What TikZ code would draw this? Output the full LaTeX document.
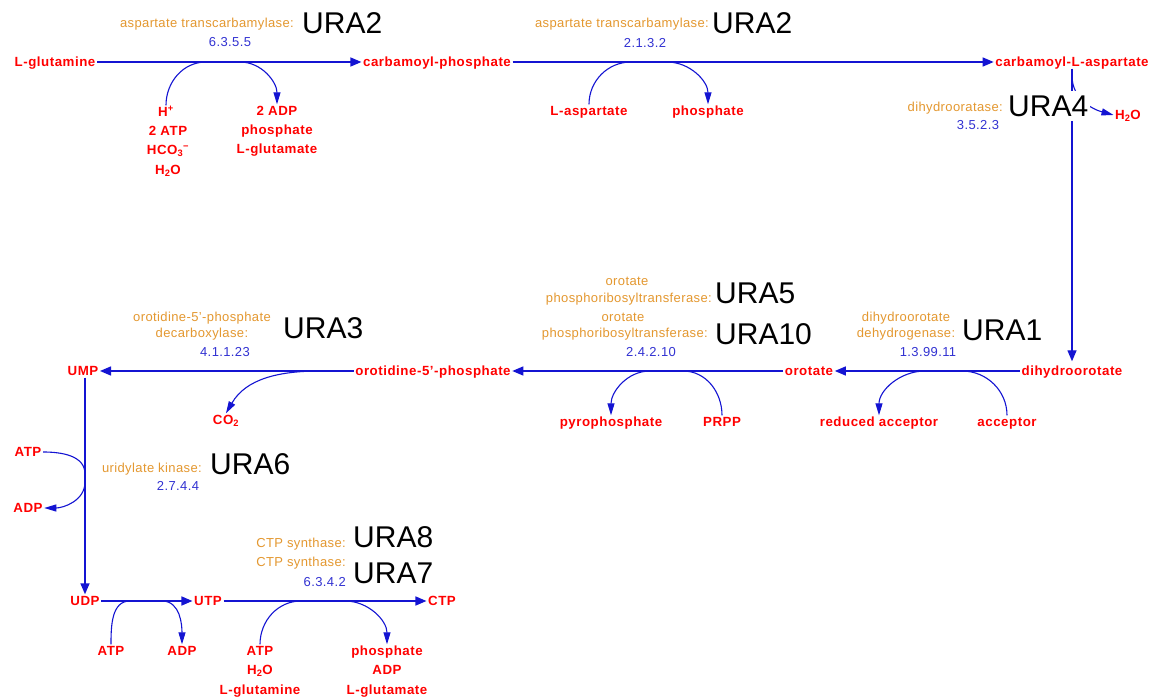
\documentclass[tikz,border=0pt]{standalone}
\usepackage{fontspec}
\setmainfont{Liberation Sans}
\newfontfamily\cpdf{Liberation Sans}[LetterSpace=4]
\newfontfamily\enzf{Liberation Sans}[LetterSpace=3]
\usetikzlibrary{arrows.meta}
\definecolor{cred}{RGB}{255,0,0}
\definecolor{lblue}{RGB}{20,20,210}
\definecolor{ecblue}{RGB}{50,50,210}
\definecolor{enzor}{RGB}{228,152,48}
\tikzset{
  cpd/.style={text=cred, font=\cpdf\bfseries\fontsize{13.3}{15}\selectfont, inner sep=1.5pt, text height=9.5pt, text depth=0.5pt},
  enz/.style={text=enzor, font=\enzf\fontsize{13}{15}\selectfont, inner sep=1pt, text height=9.5pt, text depth=0pt},
  ec/.style={text=ecblue, font=\enzf\fontsize{13}{15}\selectfont, inner sep=1pt, text height=9.5pt, text depth=0pt},
  ura/.style={text=black, font=\fontsize{30}{32}\selectfont, fill=white, inner xsep=2pt, inner ysep=4.5pt, text height=21.5pt, text depth=0pt},
  main/.style={draw=lblue, line width=1.4pt, -{Triangle[length=11pt,width=9pt]}},
  side/.style={draw=lblue, line width=1.1pt},
  sidearr/.style={draw=lblue, line width=1.1pt, -{Triangle[length=12pt,width=7pt]}}
}
\begin{document}
\begin{tikzpicture}[x=1pt,y=1pt]
\fill[white] (0,0) rectangle (1160,-700);
\useasboundingbox (0,0) rectangle (1160,-700);
% main compounds
\node[cpd] (glut) at (55,-62) {L-glutamine};
\node[cpd] (cp) at (437,-62) {carbamoyl-phosphate};
\node[cpd] (cla) at (1072,-62) {carbamoyl-L-aspartate};
\node[cpd] (h2oa) at (1128,-115) {H\textsubscript{2}O};
\node[cpd] (dho) at (1072,-371) {dihydroorotate};
\node[cpd] (oro) at (809,-371) {orotate};
\node[cpd] (omp) at (433,-371) {orotidine-5’-phosphate};
\node[cpd] (ump) at (83,-371) {UMP};
\node[cpd] (udp) at (85,-601) {UDP};
\node[cpd] (utp) at (208,-601) {UTP};
\node[cpd] (ctp) at (442,-601) {CTP};
% side compounds
\node[cpd] (hp) at (166,-112) {H\textsuperscript{+}};
\node[cpd] (atp1) at (168,-131) {2 ATP};
\node[cpd] (hco3) at (168,-150) {HCO\textsubscript{3}\textsuperscript{−}};
\node[cpd] (h2o1) at (168,-170) {H\textsubscript{2}O};
\node[cpd] (adp1) at (277,-111) {2 ADP};
\node[cpd] (pi1) at (277,-130) {phosphate};
\node[cpd] (glu1) at (277,-149) {L-glutamate};
\node[cpd] (asp) at (589,-111) {L-aspartate};
\node[cpd] (pi2) at (708,-111) {phosphate};
\node[cpd] (redacc) at (879,-422) {reduced acceptor};
\node[cpd] (acc) at (1007,-422) {acceptor};
\node[cpd] (ppi) at (611,-422) {pyrophosphate};
\node[cpd] (prpp) at (722,-422) {PRPP};
\node[cpd] (co2) at (226,-420) {CO\textsubscript{2}};
\node[cpd] (atp7) at (28,-452) {ATP};
\node[cpd] (adp7) at (28,-508) {ADP};
\node[cpd] (atp8) at (111,-651) {ATP};
\node[cpd] (adp8) at (182,-651) {ADP};
\node[cpd] (atp9) at (260,-651) {ATP};
\node[cpd] (h2o9) at (260,-670) {H\textsubscript{2}O};
\node[cpd] (gln9) at (260,-690) {L-glutamine};
\node[cpd] (pi9) at (387,-651) {phosphate};
\node[cpd] (adp9) at (387,-670) {ADP};
\node[cpd] (glu9) at (387,-690) {L-glutamate};
% main connectors
\draw[main] (glut.east) -- (cp.west);
\draw[main] (cp.east) -- (cla.west);
\draw[main, shorten >=3pt] (cla) -- (dho);
\draw[main] (dho.west) -- (oro.east);
\draw[main] (oro.west) -- (omp.east);
\draw[main] (omp.west) -- (ump.east);
\draw[main] (ump.south -| udp) -- (udp.north);
\draw[main] (udp.east) -- (utp.west);
\draw[main] (utp.east) -- (ctp.west);
% side arcs
\coordinate (r1s) at (206,-62);
\coordinate (r1p) at (233,-62);
\draw[side] (hp.north) to[out=90,in=180] (r1s) -- ++(7,0);
\draw[sidearr] (r1p) -- ++(7,0) to[out=0,in=90] (adp1.north);
\coordinate (r2s) at (631,-62);
\coordinate (r2p) at (660,-62);
\draw[side] (asp.north) to[out=90,in=180] (r2s) -- ++(7,0);
\draw[sidearr] (r2p) -- ++(7,0) to[out=0,in=90] (pi2.north);
\coordinate (r3s) at (1072,-76);
\draw[sidearr] (r3s) to[out=-90,in=165] (h2oa.west);
\coordinate (r4s) at (962,-371);
\coordinate (r4p) at (932,-371);
\draw[side] (acc.north) to[out=90,in=0] (r4s) -- ++(-7,0);
\draw[sidearr] (r4p) -- ++(-7,0) to[out=180,in=90] (redacc.north);
\coordinate (r5s) at (683,-371);
\coordinate (r5p) at (657,-371);
\draw[side] (prpp.north) to[out=90,in=0] (r5s) -- ++(-7,0);
\draw[sidearr] (r5p) -- ++(-7,0) to[out=180,in=90] (ppi.north);
\coordinate (r6p) at (330,-371);
\draw[sidearr] (r6p) -- ++(-10,0) to[out=180,in=60] (co2.north);
\coordinate (r7s) at (85,-474);
\coordinate (r7p) at (85,-482);
\draw[side] (atp7.east) to[out=0,in=90] (r7s);
\draw[sidearr] (r7p) to[out=-90,in=0] (adp7.east);
\coordinate (r8s) at (130,-601);
\coordinate (r8p) at (155,-601);
\draw[side] (atp8.north) to[out=90,in=180] (r8s) -- ++(7,0);
\draw[sidearr] (r8p) -- ++(7,0) to[out=0,in=90] (adp8.north);
\coordinate (r9s) at (301,-601);
\coordinate (r9p) at (338,-601);
\draw[side] (atp9.north) to[out=90,in=180] (r9s) -- ++(7,0);
\draw[sidearr] (r9p) -- ++(7,0) to[out=0,in=90] (pi9.north);
% enzyme labels
\node[enz, anchor=east] (e1) at (295,-23) {aspartate transcarbamylase:};
\node[ura, anchor=west] (u1) at (300,-22.5) {URA2};
\node[ec] (ec1) at (230,-42) {6.3.5.5};
\node[enz, anchor=east] (e2) at (710,-23) {aspartate transcarbamylase:};
\node[ura, anchor=west] (u2) at (710,-22.5) {URA2};
\node[ec] (ec2) at (645,-43) {2.1.3.2};
\node[enz, anchor=east] (e3) at (1004,-107) {dihydrooratase:};
\node[ura, anchor=west] (u3) at (1006,-106) {URA4};
\node[ec] (ec3) at (978,-125) {3.5.2.3};
\node[enz] (e4a) at (906,-317) {dihydroorotate};
\node[enz] (e4b) at (906,-333) {dehydrogenase:};
\node[ura, anchor=west] (u4) at (960,-330) {URA1};
\node[ec] (ec4) at (928,-352) {1.3.99.11};
\node[enz] (e5a) at (627,-281) {orotate};
\node[enz, anchor=east] (e5b) at (713,-298) {phosphoribosyltransferase:};
\node[ura, anchor=west] (u5) at (713,-293) {URA5};
\node[enz] (e5c) at (623,-317) {orotate};
\node[enz, anchor=east] (e5d) at (709,-333) {phosphoribosyltransferase:};
\node[ura, anchor=west] (u5b) at (713,-334) {URA10};
\node[ec] (ec5) at (651,-352) {2.4.2.10};
\node[enz] (e6a) at (202,-317) {orotidine-5’-phosphate};
\node[enz] (e6b) at (202,-333) {decarboxylase:};
\node[ura, anchor=west] (u6) at (281,-328) {URA3};
\node[ec] (ec6) at (225,-352) {4.1.1.23};
\node[enz, anchor=east] (e7) at (203,-468) {uridylate kinase:};
\node[ura, anchor=west] (u7) at (208,-464) {URA6};
\node[ec] (ec7) at (178,-486) {2.7.4.4};
\node[enz, anchor=east] (e9a) at (347,-543) {CTP synthase:};
\node[ura, anchor=west] (u9a) at (351,-537) {URA8};
\node[enz, anchor=east] (e9b) at (347,-562) {CTP synthase:};
\node[ura, anchor=west] (u9b) at (351,-572.5) {URA7};
\node[ec, anchor=east] (ec9) at (347,-582) {6.3.4.2};
\end{tikzpicture}
\end{document}
